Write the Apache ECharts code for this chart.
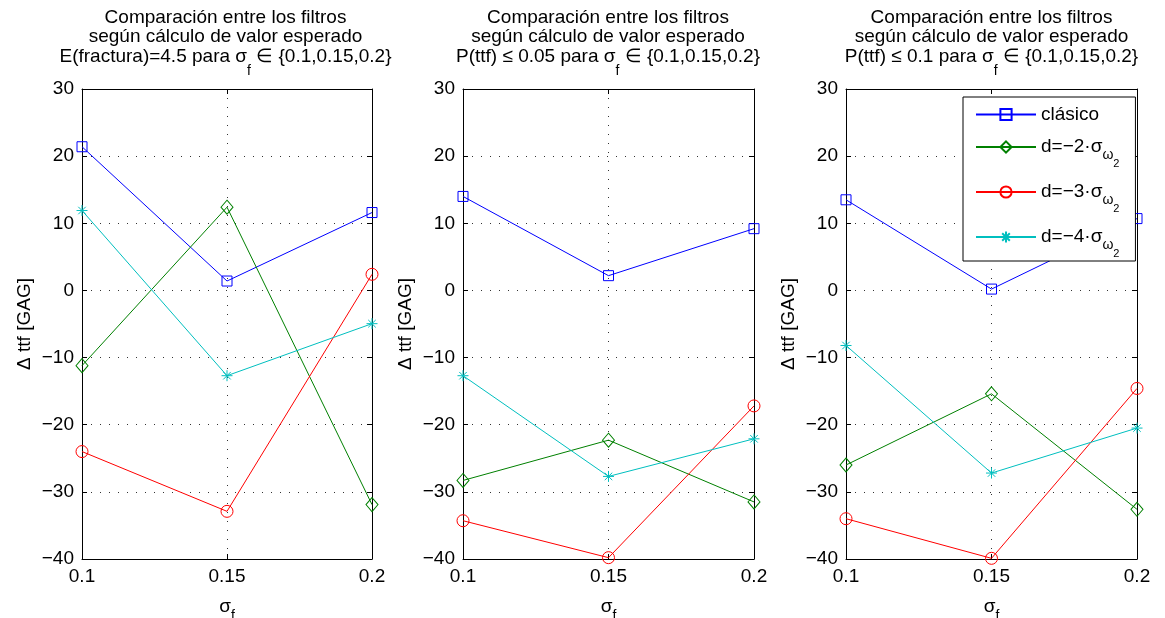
<!DOCTYPE html>
<html>
<head>
<meta charset="utf-8">
<script src="https://cdn.jsdelivr.net/npm/echarts@6/dist/echarts.min.js"></script>
<style>
  html, body { margin: 0; padding: 0; background: #fff; }
  #chart { width: 1165px; height: 618px; }
</style>
</head>
<body>
<div id="chart"></div>
<script>
// σ_f values on the horizontal axis
const sigmaF = [0.1, 0.15, 0.2];
const yMin = -40, yMax = 30, yStep = 10;

// Δ ttf [GAG] per panel (three panels: E(fractura), P(ttf)≤0.05, P(ttf)≤0.1)
const clasico = [[21.4, 1.4, 11.6], [14.0, 2.2, 9.2], [13.5, 0.2, 10.7]];
const dMinus2 = [[-11.2, 12.4, -31.9], [-28.3, -22.3, -31.5], [-26.0, -15.4, -32.6]];
const dMinus3 = [[-24.0, -32.9, 2.4], [-34.3, -39.8, -17.2], [-34.0, -39.9, -14.6]];
const dMinus4 = [[11.9, -12.7, -4.95], [-12.7, -27.7, -22.1], [-8.2, -27.2, -20.5]];

const seriesNames = ['clásico', 'd=−2·σω2', 'd=−3·σω2', 'd=−4·σω2'];
const legendRich = [
  '{m|clásico}',
  '{n|d=−2·σ}{w|ω}{t|2}',
  '{n|d=−3·σ}{w|ω}{t|2}',
  '{n|d=−4·σ}{w|ω}{t|2}'
];
const titleThird = ['E(fractura)=4.5 para ', 'P(ttf) ≤ 0.05 para ', 'P(ttf) ≤ 0.1 para '];

const FONT = '"Liberation Sans", Arial, Helvetica, sans-serif';
const colors = ['#0000ff', '#008000', '#ff0000', '#00bfbf'];
const symbols = [
  'rect',
  'diamond',
  'circle',
  'path://M5,0L5,10M0,5L10,5M1.6,1.6L8.4,8.4M1.6,8.4L8.4,1.6'
];
const symbolSizes = [10, [12, 14], 12, 11];
const seriesData = [clasico, dMinus2, dMinus3, dMinus4];

const grids = [
  { left: 82, top: 89, width: 290, height: 470 },
  { left: 463, top: 89, width: 291, height: 470 },
  { left: 846, top: 89, width: 291, height: 470 }
];
const titleCenters = [225.5, 608, 991.5];

const chart = echarts.init(document.getElementById('chart'), null, { renderer: 'canvas' });

const dotted = { color: '#333', width: 1, type: [1, 8] };
const axisLineStyle = { onZero: false, lineStyle: { color: '#000', width: 1 } };
const tickStyle = { show: true, inside: true, length: 5, lineStyle: { color: '#000', width: 1 } };

const xAxes = [], yAxes = [], series = [], titles = [];

grids.forEach((g, i) => {
  xAxes.push({
    type: 'value', gridIndex: i, position: 'bottom',
    min: sigmaF[0], max: sigmaF[sigmaF.length - 1], interval: 0.05,
    axisLine: axisLineStyle, axisTick: tickStyle,
    axisLabel: {
      color: '#000', fontSize: 19, fontFamily: FONT, margin: 8,
      formatter: v => String(+v.toFixed(2))
    },
    splitLine: { show: true, lineStyle: dotted },
    name: '{s|σ}{f|f}', nameLocation: 'middle', nameGap: 20,
    nameTextStyle: {
      color: '#000', fontFamily: FONT,
      rich: {
        s: { fontSize: 19, lineHeight: 22, verticalAlign: 'middle', color: '#000', fontFamily: FONT },
        f: { fontSize: 14, lineHeight: 22, verticalAlign: 'middle', padding: [18, 0, 0, 0], color: '#000', fontFamily: FONT }
      }
    }
  });
  xAxes.push({
    type: 'value', gridIndex: i, position: 'top',
    min: sigmaF[0], max: sigmaF[sigmaF.length - 1], interval: 0.05,
    axisLine: axisLineStyle, axisTick: tickStyle,
    axisLabel: { show: false }, splitLine: { show: false }
  });
  yAxes.push({
    type: 'value', gridIndex: i, position: 'left',
    min: yMin, max: yMax, interval: yStep,
    axisLine: axisLineStyle, axisTick: tickStyle,
    axisLabel: {
      color: '#000', fontSize: 19, fontFamily: FONT, margin: 8,
      formatter: v => String(v).replace('-', '−')
    },
    splitLine: { show: true, lineStyle: dotted },
    name: 'Δ ttf [GAG]', nameLocation: 'middle', nameGap: 46,
    nameTextStyle: { color: '#000', fontSize: 19, fontFamily: FONT, lineHeight: 22 }
  });
  yAxes.push({
    type: 'value', gridIndex: i, position: 'right',
    min: yMin, max: yMax, interval: yStep,
    axisLine: axisLineStyle, axisTick: tickStyle,
    axisLabel: { show: false }, splitLine: { show: false }
  });

  seriesNames.forEach((name, k) => {
    series.push({
      type: 'line', name: name,
      xAxisIndex: 2 * i, yAxisIndex: 2 * i,
      data: sigmaF.map((x, j) => [x, seriesData[k][i][j]]),
      symbol: symbols[k], symbolSize: symbolSizes[k], showSymbol: true,
      lineStyle: { color: colors[k], width: 1 },
      itemStyle: { color: 'none', borderColor: colors[k], borderWidth: 1 },
      clip: false, silent: true, animation: false,
      emphasis: { disabled: true }
    });
  });

  titles.push({
    text: 'Comparación entre los filtros\nsegún cálculo de valor esperado\n' +
          titleThird[i] + '{s|σ}{f|f} ∈ {0.1,0.15,0.2}',
    left: titleCenters[i], top: 8, textAlign: 'center', padding: 0,
    textStyle: {
      color: '#000', fontSize: 19, fontWeight: 'normal', fontFamily: FONT, lineHeight: 19.5,
      rich: {
        s: { fontSize: 19, lineHeight: 19.5, verticalAlign: 'middle', color: '#000', fontFamily: FONT },
        f: { fontSize: 14, lineHeight: 19.5, verticalAlign: 'middle', padding: [28, 0, 0, 0], color: '#000', fontFamily: FONT }
      }
    }
  });
});

chart.setOption({
  animation: false,
  backgroundColor: '#fff',
  title: titles,
  grid: grids.map(g => Object.assign({ containLabel: false, outerBoundsMode: 'none', show: false }, g)),
  xAxis: xAxes,
  yAxis: yAxes,
  legend: {
    data: seriesNames,
    orient: 'vertical',
    left: 963, top: 97,
    padding: [8, 16, 2, 12],
    itemGap: 1,
    itemWidth: 60, itemHeight: 14,
    backgroundColor: '#fff',
    borderColor: '#000', borderWidth: 1, borderRadius: 0,
    selectedMode: false,
    formatter: name => legendRich[seriesNames.indexOf(name)],
    textStyle: {
      color: '#000', fontSize: 19, fontFamily: FONT,
      rich: {
        m: { fontSize: 19, lineHeight: 28, verticalAlign: 'middle', color: '#000', fontFamily: FONT },
        n: { fontSize: 19, lineHeight: 42, verticalAlign: 'middle', color: '#000', fontFamily: FONT },
        w: { fontSize: 14, lineHeight: 42, verticalAlign: 'middle', padding: [16, 0, 0, 0], color: '#000', fontFamily: FONT },
        t: { fontSize: 11, lineHeight: 42, verticalAlign: 'middle', padding: [33, 0, 0, 0], color: '#000', fontFamily: FONT }
      }
    }
  },
  series: series
});
</script>
</body>
</html>
